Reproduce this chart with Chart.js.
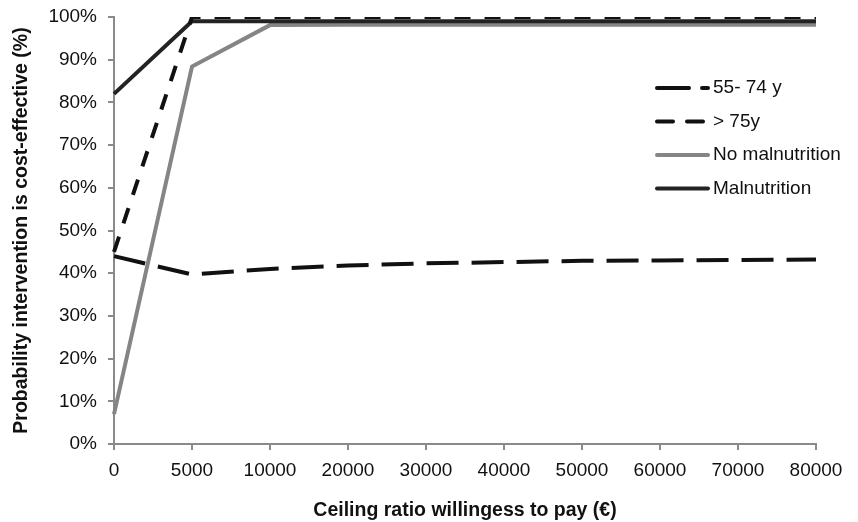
<!DOCTYPE html>
<html>
<head>
<meta charset="utf-8">
<script src="https://cdn.jsdelivr.net/npm/chart.js@4/dist/chart.umd.min.js"></script>
<style>
    html, body { margin: 0; padding: 0; background: #fff; }
    #wrap { width: 858px; height: 522px; }
</style>
</head>
<body>
<div id="wrap"><canvas id="ceac"></canvas></div>
<script>
// Willingness to pay thresholds (category axis, evenly spaced)
const ceilingRatios = ["0", "5000", "10000", "20000", "30000", "40000", "50000", "60000", "70000", "80000"];

// Probability cost-effective (%)
const age55to74 = [44, 39.7, 41, 41.8, 42.3, 42.6, 42.9, 43, 43.1, 43.2];
const age75plus = [45, 100, 100, 100, 100, 100, 100, 100, 100, 100];
const noMalnutrition = [7, 88.4, 98.1, 98.2, 98.2, 98.2, 98.2, 98.2, 98.2, 98.2];
const malnutrition = [82, 99, 99, 99, 99, 99, 99, 99, 99, 99];

const FONT = "'Liberation Sans', Arial, Helvetica, sans-serif";
const AXIS_GREY = "#8a8a8a";

// Legend drawn inside the plot area, right side
const insideLegend = {
    id: "insideLegend",
    afterDraw(chart) {
        const ctx = chart.ctx;
        const x0 = 657, x1 = 708, textX = 713;
        let y = 88;
        ctx.save();
        ctx.font = "19px " + FONT;
        ctx.textBaseline = "middle";
        chart.data.datasets.forEach((ds) => {
            ctx.beginPath();
            ctx.setLineDash(ds.borderDash || []);
            ctx.lineCap = "round";
            ctx.strokeStyle = ds.borderColor;
            ctx.lineWidth = ds.borderWidth;
            ctx.moveTo(x0, y);
            ctx.lineTo(x1, y);
            ctx.stroke();
            ctx.setLineDash([]);
            ctx.fillStyle = "#111";
            ctx.fillText(ds.label, textX, y);
            y += 33.5;
        });
        ctx.restore();
    }
};

new Chart(document.getElementById("ceac"), {
    type: "line",
    data: {
        labels: ceilingRatios,
        datasets: [
            {
                label: "55- 74 y",
                data: age55to74,
                borderColor: "#111",
                borderWidth: 4,
                borderDash: [32, 13],
                order: 1
            },
            {
                label: "> 75y",
                data: age75plus,
                borderColor: "#111",
                borderWidth: 4,
                borderDash: [16, 14],
                order: 0
            },
            {
                label: "No malnutrition",
                data: noMalnutrition,
                borderColor: "#858585",
                borderWidth: 4,
                order: 3
            },
            {
                label: "Malnutrition",
                data: malnutrition,
                borderColor: "#232323",
                borderWidth: 4,
                order: 2
            }
        ]
    },
    options: {
        responsive: true,
        maintainAspectRatio: false,
        animation: false,
        devicePixelRatio: 1,
        layout: { padding: { top: 17, right: 42, left: 0, bottom: 0 } },
        elements: {
            point: { radius: 0 },
            line: { tension: 0, borderCapStyle: "butt", borderJoinStyle: "miter" }
        },
        plugins: {
            legend: { display: false },
            tooltip: { enabled: false }
        },
        scales: {
            x: {
                offset: false,
                afterFit: (s) => { s.height = 78; },
                border: { color: AXIS_GREY, width: 2 },
                grid: { drawOnChartArea: false, color: AXIS_GREY, lineWidth: 2, tickLength: 6 },
                ticks: { color: "#111", font: { family: FONT, size: 19 }, padding: 9, maxRotation: 0, autoSkip: false },
                title: {
                    display: true,
                    text: "Ceiling ratio willingess to pay (\u20ac)",
                    color: "#111",
                    font: { family: FONT, size: 19.5, weight: "bold" },
                    padding: { top: 4, bottom: 0 }
                }
            },
            y: {
                min: 0,
                max: 100,
                afterFit: (s) => { s.width = 114; s.paddingTop = 4; },
                border: { color: AXIS_GREY, width: 2 },
                grid: { drawOnChartArea: false, color: AXIS_GREY, lineWidth: 2, tickLength: 6 },
                ticks: {
                    stepSize: 10,
                    color: "#111",
                    font: { family: FONT, size: 19 },
                    padding: 11,
                    callback: (v) => v + "%"
                },
                title: {
                    display: true,
                    text: "Probability intervention is cost-effective (%)",
                    color: "#111",
                    font: { family: FONT, size: 19.5, weight: "bold" },
                    padding: { top: 10, bottom: 2 }
                }
            }
        }
    },
    plugins: [insideLegend]
});
</script>
</body>
</html>
